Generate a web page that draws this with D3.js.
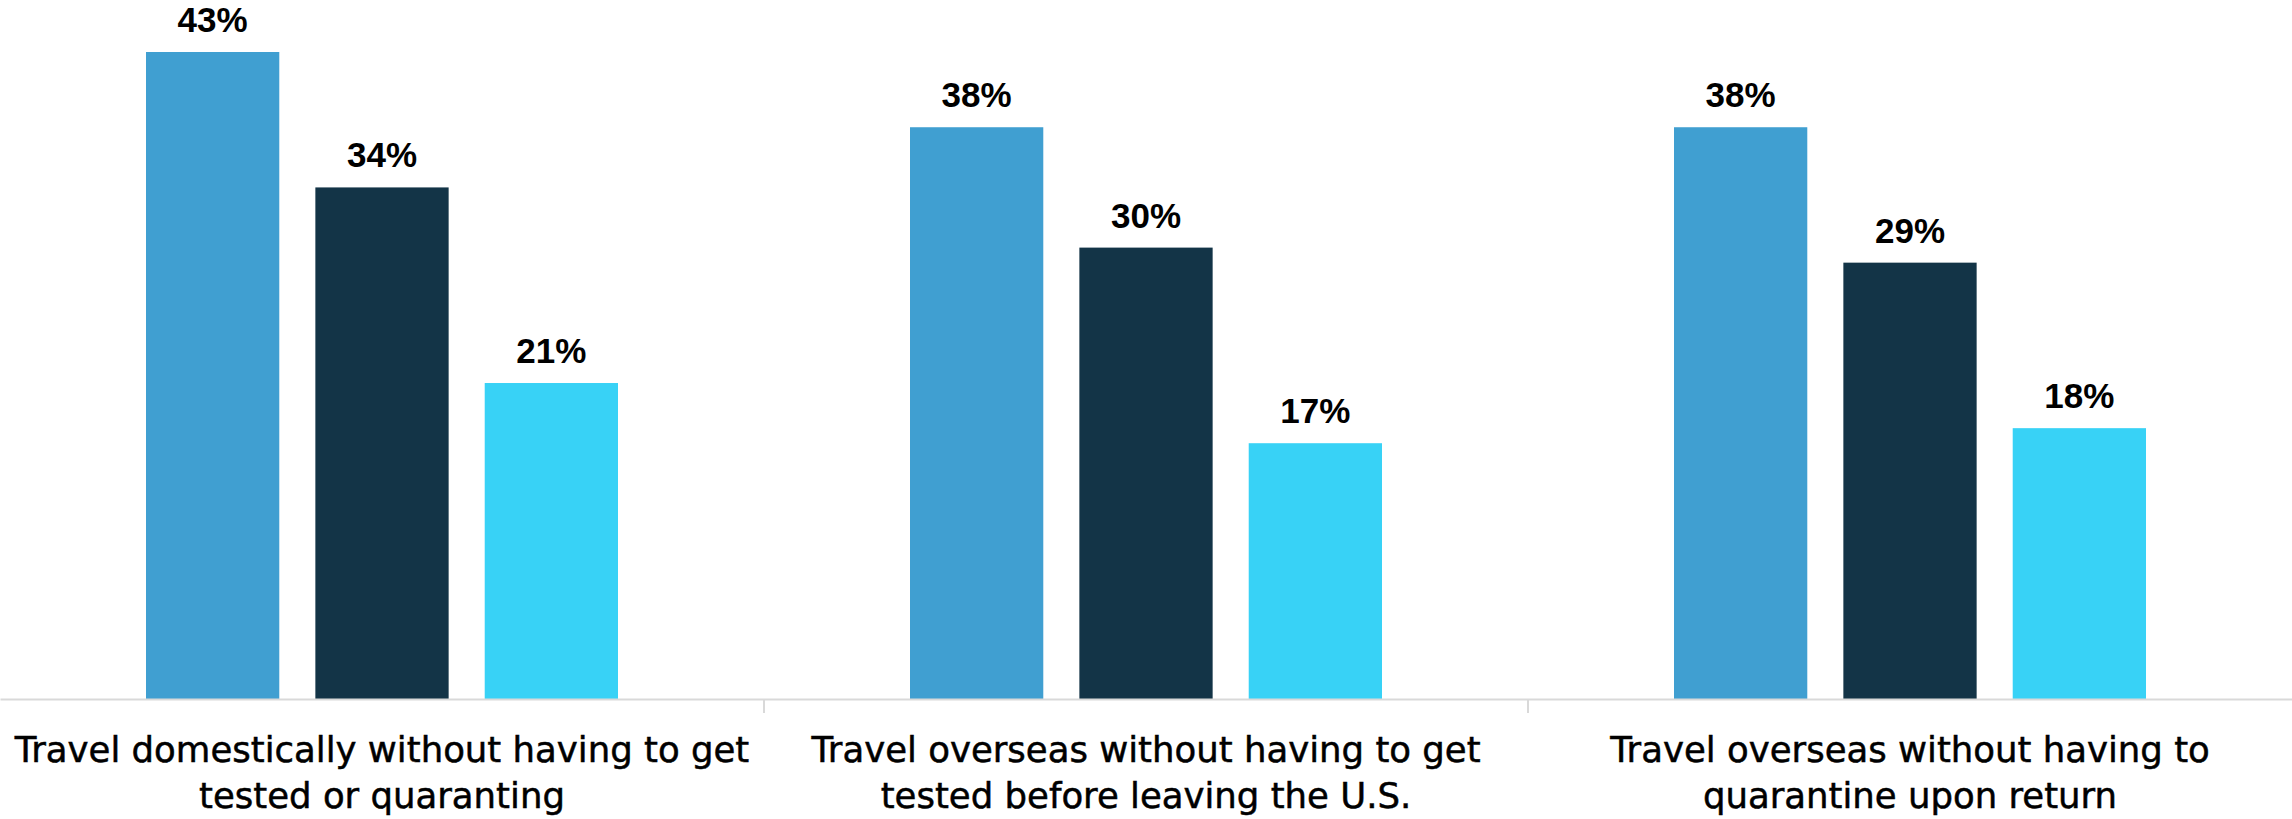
<!DOCTYPE html>
<html>
<head>
<meta charset="utf-8">
<script src="https://cdn.jsdelivr.net/npm/d3@7"></script>
<style>
  html, body { margin: 0; padding: 0; background: #ffffff; }
  svg { display: block; }
</style>
</head>
<body>
<svg id="chart"></svg>
<script>
// ---- Data ----
const categories = [
  "Travel domestically without having to get\ntested or quaranting",
  "Travel overseas without having to get\ntested before leaving the U.S.",
  "Travel overseas without having to\nquarantine upon return"
];
const seriesNames = ["Series 1", "Series 2", "Series 3"];
const series1 = [43, 38, 38];
const series2 = [34, 30, 29];
const series3 = [21, 17, 18];
const seriesValues = [series1, series2, series3];
const seriesColors = ["#409fd1", "#133447", "#38d2f6"];

// ---- Layout ----
const W = 2292, H = 819;
const baseY = 699;
const svg = d3.select("#chart").attr("width", W).attr("height", H);

const x0 = d3.scaleBand().domain(categories).range([0, W]).padding(0);
const x1 = d3.scaleBand().domain(seriesNames)
  .range([146, 618]).paddingInner(0.213).paddingOuter(0);
const y = d3.scaleLinear().domain([0, 43]).range([baseY, 52]);

const table = categories.map((c, i) => ({
  cat: c,
  vals: seriesNames.map((s, j) => ({ s, v: seriesValues[j][i], color: seriesColors[j] }))
}));

const groups = svg.selectAll("g.grp").data(table).enter().append("g")
  .attr("class", "grp")
  .attr("transform", d => `translate(${x0(d.cat)},0)`);

groups.selectAll("rect").data(d => d.vals).enter().append("rect")
  .attr("x", d => x1(d.s))
  .attr("width", x1.bandwidth())
  .attr("y", d => y(d.v))
  .attr("height", d => y(0) - y(d.v))
  .attr("fill", d => d.color);

groups.selectAll("text.val").data(d => d.vals).enter().append("text")
  .attr("class", "val")
  .attr("x", d => x1(d.s) + x1.bandwidth() / 2)
  .attr("y", d => y(d.v) - 20)
  .attr("text-anchor", "middle")
  .attr("font-family", "'Liberation Sans', Arial, sans-serif")
  .attr("font-weight", "bold")
  .attr("font-size", 35)
  .attr("fill", "#000")
  .text(d => d.v + "%");

// axis line
const axis = d3.axisBottom(x0).tickSize(0).tickSizeOuter(0).tickFormat("");
const axG = svg.append("g").attr("transform", `translate(0,${baseY})`).call(axis);
axG.select(".domain").attr("stroke", "#d9d9d9").attr("stroke-width", 2);
axG.selectAll(".tick").remove();
const bounds = [x0(categories[1]), x0(categories[2])];
axG.selectAll("line.sep").data(bounds).enter().append("line")
  .attr("class", "sep")
  .attr("x1", d => d).attr("x2", d => d)
  .attr("y1", 0).attr("y2", 14)
  .attr("stroke", "#d9d9d9").attr("stroke-width", 2);

// category labels
const labels = svg.selectAll("text.cat").data(categories).enter().append("text")
  .attr("class", "cat")
  .attr("text-anchor", "middle")
  .attr("font-family", "'DejaVu Sans', sans-serif")
  .attr("font-size", 35.5)
  .attr("fill", "#000")
  .attr("stroke", "#000")
  .attr("stroke-width", 0.5);
labels.each(function(d) {
  const t = d3.select(this);
  const cx = x0(d) + x0.bandwidth() / 2;
  d.split("\n").forEach((line, i) => {
    t.append("tspan").attr("x", cx).attr("y", 762 + i * 46).text(line);
  });
});
</script>
</body>
</html>
